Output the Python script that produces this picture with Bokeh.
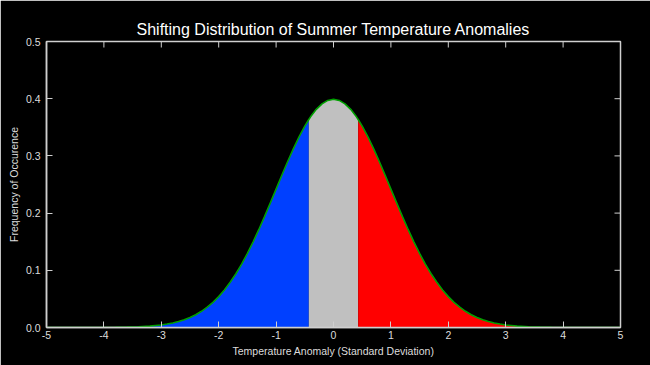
import math
from bokeh.plotting import figure
from bokeh.models import Range1d, FixedTicker, PrintfTickFormatter
from bokeh.embed import file_html
from bokeh.resources import INLINE

# Curve (frequency vs anomaly)
anomaly = [-5.0, -4.5, -4.0, -3.8, -3.6, -3.4, -3.2, -3.0, -2.9, -2.8, -2.7, -2.6, -2.5,
           -2.4, -2.3, -2.2, -2.1, -2.0, -1.9, -1.8, -1.7, -1.6, -1.5, -1.4, -1.3, -1.2,
           -1.1, -1.0, -0.9, -0.8, -0.7, -0.6, -0.5, -0.43, -0.4, -0.3, -0.2, -0.1, 0.0,
           0.1, 0.2, 0.3, 0.4, 0.43, 0.5, 0.6, 0.7, 0.8, 0.9, 1.0, 1.1, 1.2, 1.3, 1.4,
           1.5, 1.6, 1.7, 1.8, 1.9, 2.0, 2.1, 2.2, 2.3, 2.4, 2.5, 2.6, 2.7, 2.8, 2.9,
           3.0, 3.2, 3.4, 3.6, 3.8, 4.0, 4.5, 5.0]
frequency = [0.0000, 0.0000, 0.0001, 0.0003, 0.0006, 0.0012, 0.0024, 0.0044, 0.0060, 0.0079,
             0.0104, 0.0136, 0.0175, 0.0224, 0.0283, 0.0355, 0.0440, 0.0540, 0.0656, 0.0790,
             0.0940, 0.1109, 0.1295, 0.1497, 0.1714, 0.1942, 0.2179, 0.2420, 0.2661, 0.2897,
             0.3123, 0.3332, 0.3521, 0.3637, 0.3683, 0.3814, 0.3910, 0.3970, 0.3989,
             0.3970, 0.3910, 0.3814, 0.3683, 0.3637, 0.3521, 0.3332, 0.3123, 0.2897, 0.2661,
             0.2420, 0.2179, 0.1942, 0.1714, 0.1497, 0.1295, 0.1109, 0.0940, 0.0790, 0.0656,
             0.0540, 0.0440, 0.0355, 0.0283, 0.0224, 0.0175, 0.0136, 0.0104, 0.0079, 0.0060,
             0.0044, 0.0024, 0.0012, 0.0006, 0.0003, 0.0001, 0.0000, 0.0000]

# Region boundaries (cold / normal / hot)
cold_limit = -0.43
hot_limit = 0.43

x_ticks = [-5, -4, -3, -2, -1, 0, 1, 2, 3, 4, 5]
y_ticks = [0.0, 0.1, 0.2, 0.3, 0.4, 0.5]
x_min, x_max = -5, 5
y_min, y_max = 0, 0.5

AX = "#cfcfcf"
LBL = "#dddddd"
FONT = "Liberation Sans"

p = figure(width=650, height=365, x_range=Range1d(x_min, x_max), y_range=Range1d(y_min, y_max),
           output_backend="svg", toolbar_location=None,
           min_border_left=46, min_border_right=30, min_border_top=41, min_border_bottom=38,
           background_fill_color="black", border_fill_color="black",
           outline_line_color=AX, outline_line_width=1.5)
p.grid.visible = False

def region(lo, hi):
    xs, ys = [], []
    for a, f in zip(anomaly, frequency):
        if lo - 1e-9 <= a <= hi + 1e-9:
            xs.append(a)
            ys.append(f)
    return xs, ys

bx, by = region(-99, cold_limit)
gx, gy = region(cold_limit, hot_limit)
rx, ry = region(hot_limit, 99)
p.varea(x=bx, y1=[0] * len(bx), y2=by, fill_color="#0040ff")
p.varea(x=gx, y1=[0] * len(gx), y2=gy, fill_color="#c0c0c0")
p.varea(x=rx, y1=[0] * len(rx), y2=ry, fill_color="#ff0000")
p.line(anomaly, frequency, line_color="#00a000", line_width=1.6)

# inward ticks on the top and right edges of the box (half of each dash is clipped)
p.scatter(x=x_ticks, y=[y_max] * len(x_ticks), marker="dash", size=12, angle=math.pi / 2,
          line_color=AX, line_width=1)
p.scatter(x=[x_max] * len(y_ticks), y=y_ticks, marker="dash", size=12,
          line_color=AX, line_width=1)

# title
p.title.text = "Shifting Distribution of Summer Temperature Anomalies"
p.title.align = "center"
p.title.text_color = "white"
p.title.text_font = FONT
p.title.text_font_size = "16px"
p.title.text_font_style = "normal"
p.title.standoff = 8

def style_axis(ax, ticks):
    ax.ticker = FixedTicker(ticks=ticks)
    ax.axis_line_color = AX
    ax.axis_line_width = 1.5
    ax.major_tick_line_color = AX
    ax.major_tick_in = 6
    ax.major_tick_out = 0
    ax.minor_tick_line_color = None
    ax.major_label_text_color = LBL
    ax.major_label_text_font = FONT
    ax.major_label_text_font_size = "10.5px"
    ax.axis_label_text_color = LBL
    ax.axis_label_text_font = FONT
    ax.axis_label_text_font_size = "10.5px"
    ax.axis_label_text_font_style = "normal"

xa = p.xaxis[0]
style_axis(xa, x_ticks)
xa.formatter = PrintfTickFormatter(format="%d")
xa.major_label_standoff = 3
xa.axis_label = "Temperature Anomaly (Standard Deviation)"
xa.axis_label_standoff = 3

ya = p.yaxis[0]
style_axis(ya, y_ticks)
ya.formatter = PrintfTickFormatter(format="%.1f")
ya.major_label_standoff = 6
ya.axis_label = "Frequency of Occurence"
ya.axis_label_standoff = 3

html = file_html(p, INLINE)
html = html.replace("<body>", '<body style="background:black">', 1)
open("out.html", "w").write(html)
